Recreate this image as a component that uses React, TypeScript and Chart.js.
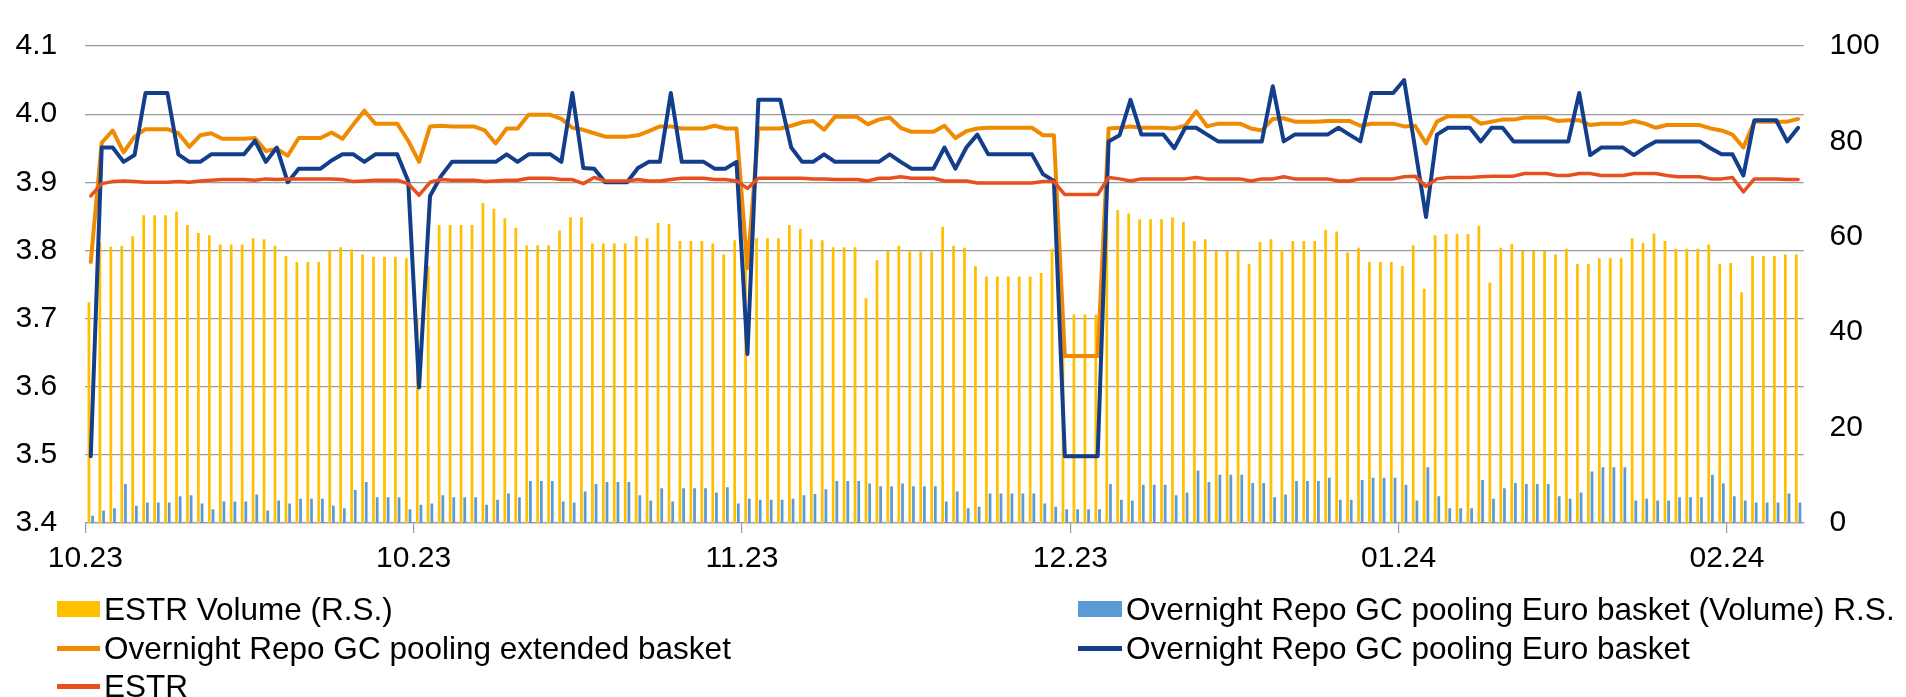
import React, { useEffect, useRef } from 'react';
import { Chart, registerables } from 'chart.js';

Chart.register(...registerables);

// ---- categories (calendar days, 01.10.2023 onwards) ----
const START_DATE = '2023-10-01';
const tickIndexes = [0, 30, 60, 90, 120, 150];
const xTickLabels = ['10.23', '10.23', '11.23', '12.23', '01.24', '02.24'];

// ---- right scale (volume, EUR bn) ----
const estrVolume = [
  46.3, 58.7, 57.9, 58.1, 60.1, 64.5, 64.5, 64.5, 65.3, 62.5,
  60.8, 60.3, 58.4, 58.4, 58.4, 59.7, 59.5, 58.1, 56.0, 54.7,
  54.7, 54.7, 57.1, 57.8, 57.4, 56.3, 55.8, 55.8, 55.8, 55.5,
  43.0, 53.9, 62.5, 62.5, 62.5, 62.5, 67.1, 65.9, 63.9, 61.9,
  58.2, 58.2, 58.2, 61.3, 64.1, 64.1, 58.6, 58.6, 58.6, 58.6,
  60.1, 59.7, 62.9, 62.7, 59.1, 59.1, 59.1, 58.6, 56.3, 59.3,
  59.0, 59.7, 59.7, 59.7, 62.5, 61.7, 59.5, 59.3, 57.8, 57.8,
  57.8, 47.1, 55.1, 57.0, 58.1, 56.9, 56.9, 56.9, 62.1, 58.1,
  57.7, 53.8, 51.7, 51.7, 51.7, 51.7, 51.7, 52.4, 57.5, 43.7,
  43.7, 43.7, 43.7, 62.9, 65.6, 64.9, 63.7, 63.7, 63.7, 64.1,
  63.1, 59.1, 59.5, 57.0, 57.0, 57.0, 54.3, 58.9, 59.5, 57.3,
  59.1, 59.1, 59.1, 61.5, 61.1, 56.7, 57.7, 54.7, 54.7, 54.7,
  53.9, 58.2, 49.1, 60.3, 60.6, 60.6, 60.6, 62.3, 50.4, 57.7,
  58.5, 57.0, 57.0, 57.0, 56.3, 57.5, 54.3, 54.3, 55.5, 55.5,
  55.5, 59.7, 58.7, 60.7, 59.1, 57.5, 57.5, 57.5, 58.4, 54.3,
  54.5, 48.4, 56.0, 56.0, 56.0, 56.3, 56.3,
];

const euroBasketVolume = [
  1.5, 2.6, 3.1, 8.2, 3.6, 4.3, 4.3, 4.3, 5.6, 5.8,
  4.1, 2.9, 4.5, 4.5, 4.5, 6.0, 2.6, 4.7, 4.1, 5.1,
  5.1, 5.1, 3.6, 3.1, 6.9, 8.6, 5.4, 5.4, 5.4, 2.9,
  3.8, 4.1, 5.8, 5.4, 5.4, 5.4, 3.8, 4.9, 6.2, 5.4,
  8.8, 8.8, 8.8, 4.5, 4.3, 6.6, 8.2, 8.6, 8.6, 8.6,
  5.8, 4.7, 7.3, 4.5, 7.3, 7.3, 7.3, 6.4, 7.5, 4.1,
  5.1, 4.9, 4.9, 4.9, 5.1, 5.8, 6.1, 7.1, 8.8, 8.8,
  8.8, 8.3, 7.7, 7.7, 8.3, 7.7, 7.7, 7.7, 4.5, 6.6,
  3.1, 3.4, 6.2, 6.2, 6.2, 6.2, 6.2, 4.1, 3.4, 2.9,
  2.9, 2.9, 2.9, 8.2, 4.9, 4.7, 8.0, 8.0, 8.0, 5.8,
  6.4, 11.0, 8.6, 10.1, 10.1, 10.1, 8.4, 8.4, 5.4, 6.0,
  8.8, 8.8, 8.8, 9.5, 4.9, 4.9, 9.0, 9.5, 9.5, 9.5,
  8.0, 4.7, 11.7, 5.6, 3.1, 3.1, 3.1, 9.0, 5.1, 7.3,
  8.4, 8.2, 8.2, 8.2, 5.6, 5.1, 6.4, 10.8, 11.7, 11.7,
  11.7, 4.7, 5.1, 4.7, 4.7, 5.4, 5.4, 5.4, 10.1, 8.3,
  5.6, 4.7, 4.3, 4.3, 4.3, 6.2, 4.3,
];

// ---- left scale (rates, %) ----
const extendedBasket = [
  3.783, 3.958, 3.976, 3.944, 3.967, 3.978, 3.978, 3.978, 3.972, 3.952,
  3.969, 3.972, 3.964, 3.964, 3.964, 3.965, 3.946, 3.949, 3.939, 3.965,
  3.965, 3.965, 3.973, 3.964, 3.985, 4.005, 3.986, 3.986, 3.986, 3.961,
  3.930, 3.982, 3.983, 3.982, 3.982, 3.982, 3.976, 3.957, 3.979, 3.979,
  3.999, 3.999, 3.999, 3.993, 3.980, 3.977, 3.972, 3.967, 3.967, 3.967,
  3.969, 3.975, 3.982, 3.982, 3.979, 3.979, 3.979, 3.983, 3.979, 3.979,
  3.774, 3.979, 3.979, 3.979, 3.983, 3.988, 3.990, 3.977, 3.996, 3.996,
  3.996, 3.985, 3.992, 3.995, 3.980, 3.974, 3.974, 3.974, 3.983, 3.965,
  3.975, 3.979, 3.980, 3.980, 3.980, 3.980, 3.980, 3.969, 3.969, 3.645,
  3.645, 3.645, 3.645, 3.979, 3.980, 3.982, 3.980, 3.980, 3.980, 3.979,
  3.983, 4.004, 3.982, 3.986, 3.986, 3.986, 3.979, 3.976, 3.993, 3.994,
  3.989, 3.989, 3.989, 3.990, 3.990, 3.990, 3.983, 3.986, 3.986, 3.986,
  3.982, 3.983, 3.957, 3.989, 3.997, 3.997, 3.997, 3.986, 3.989, 3.992,
  3.992, 3.995, 3.995, 3.995, 3.990, 3.991, 3.991, 3.984, 3.986, 3.986,
  3.986, 3.990, 3.986, 3.980, 3.984, 3.984, 3.984, 3.984, 3.979, 3.976,
  3.970, 3.951, 3.989, 3.989, 3.989, 3.989, 3.993,
];

const euroBasket = [
  3.498, 3.951, 3.951, 3.930, 3.940, 4.031, 4.031, 4.031, 3.941, 3.930,
  3.930, 3.941, 3.941, 3.941, 3.941, 3.961, 3.930, 3.951, 3.900, 3.920,
  3.920, 3.920, 3.932, 3.941, 3.941, 3.930, 3.941, 3.941, 3.941, 3.902,
  3.599, 3.880, 3.909, 3.930, 3.930, 3.930, 3.930, 3.930, 3.941, 3.930,
  3.941, 3.941, 3.941, 3.930, 4.031, 3.921, 3.920, 3.900, 3.900, 3.900,
  3.921, 3.930, 3.930, 4.031, 3.930, 3.930, 3.930, 3.920, 3.920, 3.930,
  3.648, 4.021, 4.021, 4.021, 3.951, 3.930, 3.930, 3.941, 3.930, 3.930,
  3.930, 3.930, 3.930, 3.941, 3.930, 3.920, 3.920, 3.920, 3.951, 3.920,
  3.951, 3.970, 3.941, 3.941, 3.941, 3.941, 3.941, 3.912, 3.902, 3.498,
  3.498, 3.498, 3.498, 3.960, 3.969, 4.021, 3.970, 3.970, 3.970, 3.950,
  3.980, 3.980, 3.970, 3.960, 3.960, 3.960, 3.960, 3.960, 4.041, 3.960,
  3.970, 3.970, 3.970, 3.970, 3.980, 3.970, 3.960, 4.031, 4.031, 4.031,
  4.050, 3.950, 3.849, 3.970, 3.980, 3.980, 3.980, 3.960, 3.980, 3.980,
  3.960, 3.960, 3.960, 3.960, 3.960, 3.960, 4.031, 3.940, 3.951, 3.951,
  3.951, 3.940, 3.951, 3.960, 3.960, 3.960, 3.960, 3.960, 3.950, 3.941,
  3.941, 3.910, 3.991, 3.991, 3.991, 3.960, 3.980,
];

const estr = [
  3.880, 3.898, 3.901, 3.902, 3.901, 3.900, 3.900, 3.900, 3.901, 3.900,
  3.902, 3.903, 3.904, 3.904, 3.904, 3.903, 3.905, 3.904, 3.905, 3.905,
  3.905, 3.905, 3.905, 3.904, 3.901, 3.902, 3.903, 3.903, 3.903, 3.898,
  3.881, 3.900, 3.904, 3.903, 3.903, 3.903, 3.901, 3.902, 3.903, 3.903,
  3.906, 3.906, 3.906, 3.904, 3.904, 3.898, 3.907, 3.902, 3.902, 3.902,
  3.904, 3.902, 3.902, 3.904, 3.906, 3.906, 3.906, 3.904, 3.904, 3.902,
  3.891, 3.906, 3.906, 3.906, 3.906, 3.906, 3.905, 3.905, 3.904, 3.904,
  3.904, 3.902, 3.906, 3.906, 3.908, 3.906, 3.906, 3.906, 3.902, 3.902,
  3.902, 3.899, 3.899, 3.899, 3.899, 3.899, 3.899, 3.901, 3.901, 3.882,
  3.882, 3.882, 3.882, 3.907, 3.905, 3.902, 3.905, 3.905, 3.905, 3.905,
  3.905, 3.907, 3.905, 3.905, 3.905, 3.905, 3.902, 3.905, 3.905, 3.908,
  3.905, 3.905, 3.905, 3.905, 3.902, 3.902, 3.905, 3.905, 3.905, 3.905,
  3.908, 3.909, 3.894, 3.905, 3.907, 3.907, 3.907, 3.908, 3.909, 3.909,
  3.909, 3.913, 3.913, 3.913, 3.910, 3.910, 3.913, 3.913, 3.910, 3.910,
  3.910, 3.913, 3.913, 3.913, 3.910, 3.908, 3.908, 3.908, 3.905, 3.905,
  3.907, 3.886, 3.905, 3.905, 3.905, 3.904, 3.904,
];

const seriesNames = [
  'ESTR Volume (R.S.)',
  'Overnight Repo GC pooling Euro basket (Volume) R.S.',
  'Overnight Repo GC pooling extended basket',
  'Overnight Repo GC pooling Euro basket',
  'ESTR',
];

const COLORS = {
  estrVol: '#FFC000',
  euroVol: '#5B9BD5',
  extended: '#F08A00',
  euro: '#123E8C',
  estr: '#E5501E',
  grid: '#9C9C9C',
  text: '#000000',
};

const FONT_FAMILY = '"Liberation Sans", Arial, Helvetica, sans-serif';
const TICK_FONT_SIZE = 30;
const LEGEND_FONT_SIZE = 31.5;

function buildDates(start: string, n: number): string[] {
  const out: string[] = [];
  const d0 = new Date(start + 'T00:00:00Z').getTime();
  for (let i = 0; i < n; i++) {
    out.push(new Date(d0 + i * 86400000).toISOString().slice(0, 10));
  }
  return out;
}

const categories = buildDates(START_DATE, estrVolume.length);

const legendRows = [
  [
    { name: seriesNames[0], color: COLORS.estrVol, kind: 'box' },
    { name: seriesNames[1], color: COLORS.euroVol, kind: 'box' },
  ],
  [
    { name: seriesNames[2], color: COLORS.extended, kind: 'line' },
    { name: seriesNames[3], color: COLORS.euro, kind: 'line' },
  ],
  [{ name: seriesNames[4], color: COLORS.estr, kind: 'line' }],
];

export default function App() {
  const canvasRef = useRef<HTMLCanvasElement | null>(null);

  useEffect(() => {
    const canvas = canvasRef.current;
    if (!canvas) return;
    const chart = new Chart(canvas, {
      type: 'bar',
      data: {
        labels: categories,
        datasets: [
          {
            type: 'line',
            label: seriesNames[4],
            data: estr,
            yAxisID: 'y',
            borderColor: COLORS.estr,
            borderWidth: 3.5,
            pointRadius: 0,
            tension: 0,
            borderJoinStyle: 'round',
            borderCapStyle: 'round',
            order: 0,
          },
          {
            type: 'line',
            label: seriesNames[3],
            data: euroBasket,
            yAxisID: 'y',
            borderColor: COLORS.euro,
            borderWidth: 4,
            pointRadius: 0,
            tension: 0,
            borderJoinStyle: 'round',
            borderCapStyle: 'round',
            order: 1,
          },
          {
            type: 'line',
            label: seriesNames[2],
            data: extendedBasket,
            yAxisID: 'y',
            borderColor: COLORS.extended,
            borderWidth: 4,
            pointRadius: 0,
            tension: 0,
            borderJoinStyle: 'round',
            borderCapStyle: 'round',
            order: 2,
          },
          {
            type: 'bar',
            label: seriesNames[0],
            data: estrVolume,
            yAxisID: 'y1',
            backgroundColor: COLORS.estrVol,
            borderWidth: 0,
            categoryPercentage: 0.67,
            barPercentage: 0.75,
            order: 3,
          },
          {
            type: 'bar',
            label: seriesNames[1],
            data: euroBasketVolume,
            yAxisID: 'y1',
            backgroundColor: COLORS.euroVol,
            borderWidth: 0,
            categoryPercentage: 0.67,
            barPercentage: 0.75,
            order: 4,
          },
        ],
      },
      options: {
        responsive: false,
        animation: false,
        devicePixelRatio: 1,
        layout: { padding: { top: 23.3, left: 0, right: 0, bottom: 0 } },
        plugins: {
          legend: { display: false },
          tooltip: { enabled: false },
        },
        scales: {
          x: {
            type: 'category',
            offset: true,
            afterFit: (s: any) => {
              s.height = 697 - 523;
            },
            grid: {
              offset: true,
              drawOnChartArea: false,
              drawTicks: true,
              tickLength: 10,
              lineWidth: 1.2,
              color: (c: any) =>
                c.index < categories.length && tickIndexes.includes(c.index)
                  ? COLORS.grid
                  : 'rgba(0,0,0,0)',
            },
            border: { display: true, color: COLORS.grid, width: 1.2 },
            ticks: {
              autoSkip: false,
              maxRotation: 0,
              minRotation: 0,
              padding: 8,
              labelOffset: -5.47,
              color: COLORS.text,
              font: { family: FONT_FAMILY, size: TICK_FONT_SIZE },
              callback: (_v: any, i: number) => {
                const p = tickIndexes.indexOf(i);
                return p >= 0 ? xTickLabels[p] : '';
              },
            },
          },
          y: {
            type: 'linear',
            position: 'left',
            min: 3.4,
            max: 4.1,
            afterFit: (s: any) => {
              s.width = 85.3;
            },
            grid: {
              color: COLORS.grid,
              lineWidth: 1.2,
              drawTicks: false,
            },
            border: { display: false },
            ticks: {
              stepSize: 0.1,
              padding: 28,
              color: COLORS.text,
              font: { family: FONT_FAMILY, size: TICK_FONT_SIZE },
              callback: (v: any) => Number(v).toFixed(1),
            },
          },
          y1: {
            type: 'linear',
            position: 'right',
            min: 0,
            max: 100,
            afterFit: (s: any) => {
              s.width = 1906 - 1803.6;
            },
            grid: { display: false, drawTicks: false },
            border: { display: false },
            ticks: {
              stepSize: 20,
              padding: 26,
              color: COLORS.text,
              font: { family: FONT_FAMILY, size: TICK_FONT_SIZE },
            },
          },
        },
      },
    } as any);
    return () => {
      chart.destroy();
    };
  }, []);

  const rowCenters = [609, 648, 686];
  const colSwatchX = [57, 1078];
  const colTextX = [104, 1126];

  return (
    <div
      style={{
        position: 'absolute',
        left: 0,
        top: 0,
        width: 1906,
        height: 697,
        background: '#ffffff',
        overflow: 'hidden',
      }}
    >
      <canvas ref={canvasRef} width={1906} height={697} style={{ display: 'block', width: 1906, height: 697 }} />
      {legendRows.map((row, r) =>
        row.map((item, c) => (
          <div
            key={`${r}-${c}`}
            style={{
              position: 'absolute',
              left: colSwatchX[c],
              top: rowCenters[r] - 19,
              height: 38,
              display: 'flex',
              alignItems: 'center',
              fontFamily: FONT_FAMILY,
              fontSize: LEGEND_FONT_SIZE,
              color: COLORS.text,
              whiteSpace: 'nowrap',
            }}
          >
            <span
              style={{
                display: 'inline-block',
                width: colTextX[c] - colSwatchX[c] - 4,
                height: item.kind === 'box' ? 16 : 5,
                background: item.color,
                marginRight: 4,
              }}
            />
            <span>{item.name}</span>
          </div>
        ))
      )}
    </div>
  );
}
